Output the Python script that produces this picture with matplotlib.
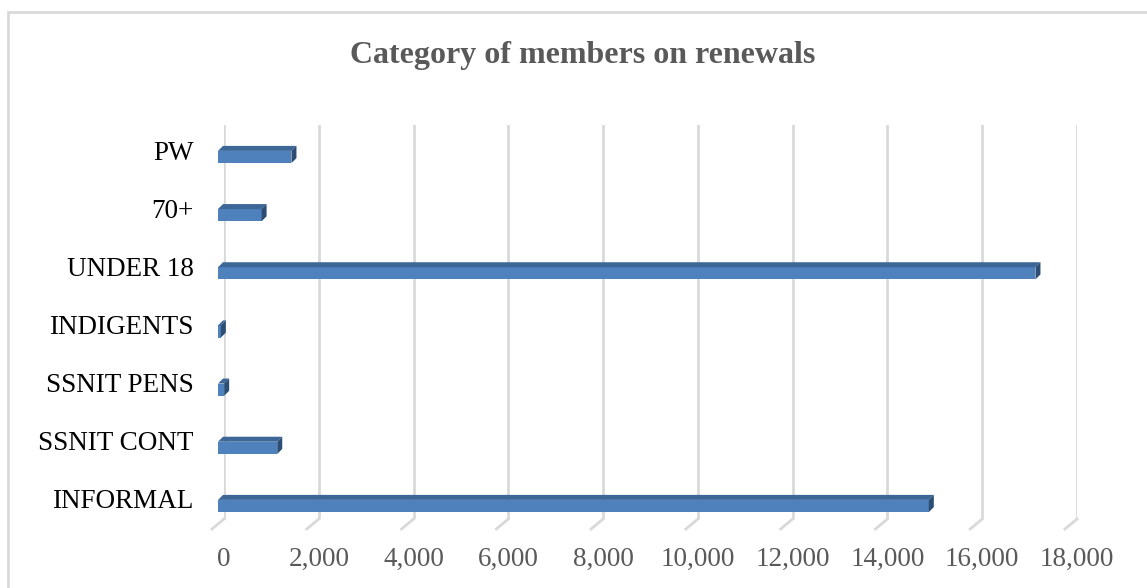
import numpy as np
import matplotlib.pyplot as plt
from matplotlib.patches import Polygon, Rectangle

plt.rcParams.update({
    'font.family': 'Liberation Serif',
    'font.size': 19.5,
})

# --- Data ---
categories = ['INFORMAL', 'SSNIT CONT', 'SSNIT PENS', 'INDIGENTS', 'UNDER 18', '70+', 'PW']
values = [15000, 1250, 130, 60, 17250, 920, 1550]
xticks = np.arange(0, 18001, 2000)

bar_face = '#4f81bd'
bar_top = '#3d6797'
bar_side = '#2c4d74'
grid_col = '#d9d9d9'
W, H, DPI = 1147, 588, 100

fig = plt.figure(figsize=(W/DPI, H/DPI), dpi=DPI)
ax = fig.add_axes([224/W, 1-519/H, (1077-224)/W, (519-125)/H])
ax.set_xlim(0, 18000)
ax.set_ylim(-0.344, 6.43)

# outer chart border
fig.patches.append(Rectangle((8/W, -0.1), 1.2, 1-12/H+0.1, transform=fig.transFigure,
                             fill=False, edgecolor=grid_col, linewidth=2))

def to_fig(pts):
    return [(px/W, py/H) for px, py in pts]

def add_poly(pts, color):
    fig.patches.append(Polygon(to_fig(pts), closed=True, transform=fig.transFigure,
                               facecolor=color, edgecolor='none', zorder=3))

# gridlines on back wall, with a short slant on the floor
for x in xticks:
    ax.axvline(x, color=grid_col, linewidth=2, zorder=0)
    p0 = ax.transData.transform((x, -0.344))
    fig.lines.append(plt.Line2D([p0[0]/W, (p0[0]-12)/W], [p0[1]/H, (p0[1]-10)/H],
                                transform=fig.transFigure, color=grid_col, linewidth=2))

# thin 3D bars: front face shifted down-left, top and side faces give depth
h = 0.21
fx, fy = -6, -7
d = 5
for i, v in enumerate(values):
    a = ax.transData.transform((0, i - h/2)) + [fx, fy]
    b = ax.transData.transform((v, i + h/2)) + [fx, fy]
    x0, y0 = a
    x1, y1 = b
    add_poly([(x0, y0), (x1, y0), (x1, y1), (x0, y1)], bar_face)
    add_poly([(x0, y1), (x1, y1), (x1 + d, y1 + d), (x0 + d, y1 + d)], bar_top)
    add_poly([(x1, y0), (x1, y1), (x1 + d, y1 + d), (x1 + d, y0 + d)], bar_side)

ax.set_yticks(range(len(categories)))
ax.set_yticklabels(categories, color='black')
ax.set_xticks(xticks)
ax.set_xticklabels([f'{x:,}' for x in xticks], color='#595959')
ax.tick_params(axis='both', length=0)
ax.tick_params(axis='y', pad=22)
ax.tick_params(axis='x', pad=20)
for s in ax.spines.values():
    s.set_visible(False)
ax.patch.set_alpha(0)

fig.text(583/W, 1-55/H, 'Category of members on renewals', ha='center', va='center',
         fontsize=23, fontweight='bold', color='#595959')

fig.savefig('out.png', dpi=DPI)
